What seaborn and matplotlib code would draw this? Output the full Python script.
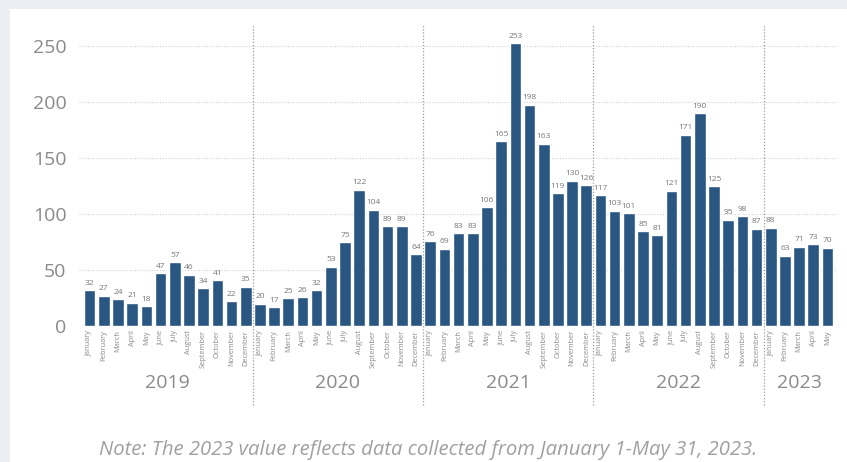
import numpy as np
import pandas as pd
import seaborn as sns
import matplotlib.pyplot as plt
from matplotlib.patches import Rectangle
import matplotlib.transforms as mtransforms

sns.set_theme(style="white")
plt.rcParams['font.family'] = ['Open Sans', 'DejaVu Sans']

# Data
years = ['2019', '2020', '2021', '2022', '2023']
months = ['January', 'February', 'March', 'April', 'May', 'June', 'July',
          'August', 'September', 'October', 'November', 'December']
v2019 = [32, 27, 24, 21, 18, 47, 57, 46, 34, 41, 22, 35]
v2020 = [20, 17, 25, 26, 32, 53, 75, 122, 104, 89, 89, 64]
v2021 = [76, 69, 83, 83, 106, 165, 253, 198, 163, 119, 130, 126]
v2022 = [117, 103, 101, 85, 81, 121, 171, 190, 125, 95, 98, 87]
v2023 = [88, 63, 71, 73, 70]
note = "Note: The 2023 value reflects data collected from January 1-May 31, 2023."

rows = []
for yr, vals in zip(years, [v2019, v2020, v2021, v2022, v2023]):
    for m, v in zip(months, vals):
        rows.append({'year': yr, 'month': m, 'key': f"{yr}-{m}", 'value': v})
df = pd.DataFrame(rows)

bar_color = '#2a5682'
grey = '#8a8a8a'

fig = plt.figure(figsize=(8.47, 4.62), dpi=100)
fig.patch.set_facecolor('#eceef4')
fig.patches.append(Rectangle((10 / 847, 0), 1, 453 / 462, transform=fig.transFigure,
                             facecolor='white', edgecolor='none', zorder=-1))

ax = fig.add_axes([79 / 847, 136 / 462, 757 / 847, 302 / 462])
ax.set_facecolor('none')
sns.barplot(data=df, x='key', y='value', color=bar_color, width=0.82,
            saturation=1, ax=ax)

# value labels
for i, v in enumerate(df['value']):
    ax.text(i, v + 3, str(v), ha='center', va='bottom', fontsize=6, color='#777777')

ax.set_ylim(0, 270)
ax.set_xlim(-0.75, 52.6)
ax.set_yticks([0, 50, 100, 150, 200, 250])
ax.tick_params(axis='y', labelsize=14, labelcolor=grey, length=0, pad=9)
ax.set_xticks(range(len(df)))
ax.set_xticklabels(df['month'], rotation=90, fontsize=5.3, color=grey)
ax.tick_params(axis='x', length=0, pad=3)
ax.set_xlabel('')
ax.set_ylabel('')
ax.yaxis.grid(True, linestyle=(0, (1, 1.5)), color='#d0d0d0', linewidth=0.8)
ax.set_axisbelow(True)
sns.despine(ax=ax, left=True, bottom=True)

# year separators and year labels
trans = mtransforms.blended_transform_factory(ax.transData, ax.transAxes)
start = 0
for yr, vals in zip(years, [v2019, v2020, v2021, v2022, v2023]):
    n = len(vals)
    ax.text(start + (n - 1) / 2, -0.19, yr, transform=trans, ha='center', va='center',
            fontsize=14, color=grey)
    if start > 0:
        ax.plot([start - 0.5, start - 0.5], [-0.26, 1.0], transform=trans,
                color='#9a9a9a', linestyle=(0, (1, 1.5)), linewidth=0.9, clip_on=False)
    start += n

fig.text(428 / 847, 1 - 450 / 462, note, ha='center', va='center', fontsize=14.6,
         style='italic', color='#a0a0a0')

fig.savefig('out.png', dpi=100)
